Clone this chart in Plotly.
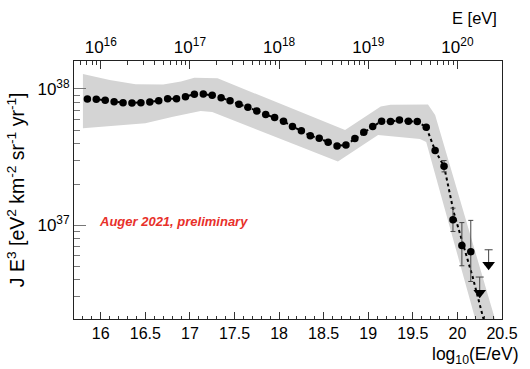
import numpy as np
import plotly.graph_objects as go

# Combined energy spectrum, J*E^3 in units of 1e37 eV^2 km^-2 sr^-1 yr^-1
lgE = np.round(np.arange(15.85, 20.16, 0.1), 2)
flux = [8.45, 8.41, 8.26, 8.07, 7.94, 7.91, 7.94, 8.04, 8.20, 8.49,
        8.49, 8.79, 9.14, 9.18, 8.99, 8.63, 8.20, 7.73, 7.35, 6.90,
        6.49, 6.17, 5.81, 5.30, 4.95, 4.55, 4.36, 4.07, 3.83, 3.89,
        4.33, 4.82, 5.30, 5.81, 5.77, 5.93, 5.81, 5.77, 5.25, 3.54,
        2.72, 1.10, 0.714, 0.643]

# statistical uncertainties (visible only in the last bins)
err_lgE = [19.85, 19.95, 20.05, 20.15]
err_up = [0.27, 0.24, 0.336, 0.447]
err_dn = [0.25, 0.196, 0.207, 0.254]

# upper limits
ul_lgE = [20.25, 20.35]
ul_flux = [0.322, 0.516]
ul_top = [0.419, 0.664]

# tail of the fitted function beyond the suppression
fit_tail_lgE = [19.96, 20.06, 20.17, 20.28, 20.34]
fit_tail_flux = [1.24, 0.746, 0.422, 0.222, 0.16]

# systematic uncertainty band
band_hi_lgE = [15.80, 16.10, 16.39, 16.70, 16.90, 17.05, 17.31, 18.74, 19.14, 19.25, 19.67, 19.75, 20.45]
band_hi = [12.88, 11.64, 10.84, 10.79, 11.35, 12.11, 11.97, 5.01, 7.43, 7.67, 7.71, 6.46, 0.178]
band_lo_lgE = [15.80, 16.50, 16.81, 17.12, 17.25, 18.19, 18.66, 19.11, 19.58, 19.65, 20.30]
band_lo = [5.16, 5.61, 6.27, 6.90, 6.79, 3.89, 2.94, 4.60, 4.31, 4.09, 0.120]

x_ticks = [16, 16.5, 17, 17.5, 18, 18.5, 19, 19.5, 20, 20.5]
x_ticktext = ["16", "16.5", "17", "17.5", "18", "18.5", "19", "19.5", "20", "20.5"]
top_exps = [16, 17, 18, 19, 20]

S = 1e37
flux_abs = np.array(flux) * S

up_full = np.zeros(len(lgE))
dn_full = np.zeros(len(lgE))
for xe, u, d in zip(err_lgE, err_up, err_dn):
    i = int(np.argmin(np.abs(lgE - xe)))
    up_full[i] = u * S
    dn_full[i] = d * S

FONT = "Liberation Sans, Arial, sans-serif"

fig = go.Figure()

# systematic band
fig.add_trace(go.Scatter(
    x=list(band_hi_lgE) + band_lo_lgE[::-1],
    y=list(np.array(band_hi) * S) + list(np.array(band_lo[::-1]) * S),
    fill="toself", fillcolor="#d4d4d4", line=dict(width=0, color="#d4d4d4"),
    mode="lines", hoverinfo="skip", showlegend=False))

# fit (dotted)
fig.add_trace(go.Scatter(
    x=list(lgE[:41]) + fit_tail_lgE,
    y=list(flux_abs[:41]) + list(np.array(fit_tail_flux) * S),
    mode="lines", line=dict(color="black", width=2, dash="3px,3px"),
    showlegend=False))

# data points
fig.add_trace(go.Scatter(
    x=lgE, y=flux_abs, mode="markers",
    marker=dict(symbol="circle", size=7.5, color="black"),
    error_y=dict(type="data", symmetric=False, array=up_full, arrayminus=dn_full,
                 color="#444", thickness=1, width=2.5),
    showlegend=False))

# upper limits
ul_abs = np.array(ul_flux) * S
fig.add_trace(go.Scatter(
    x=ul_lgE, y=ul_abs, mode="markers",
    marker=dict(symbol="triangle-down", size=11, color="black"),
    error_y=dict(type="data", symmetric=False,
                 array=np.array(ul_top) * S - ul_abs, arrayminus=[0, 0],
                 color="#444", thickness=1, width=4),
    showlegend=False))

# invisible trace carrying the top energy axis
fig.add_trace(go.Scatter(x=10 ** lgE, y=flux_abs, xaxis="x2", mode="markers",
                         marker=dict(opacity=0), hoverinfo="skip", showlegend=False))

x_minor = [v for v in np.round(np.arange(15.7, 20.51, 0.1), 2) if v not in x_ticks]
y_minor = [m * 10.0 ** e for e in (36, 37) for m in range(2, 10) if 36.315 <= np.log10(m * 10.0 ** e) <= 38.205]
top_minor = [m * 10.0 ** e for e in (15, 16, 17, 18, 19) for m in range(2, 10) if 15.7 <= np.log10(m * 10.0 ** e) <= 20.0]

fig.update_layout(
    width=530, height=369,
    margin=dict(l=74, r=20, t=61, b=50),
    paper_bgcolor="white", plot_bgcolor="white",
    font=dict(family=FONT, size=16, color="black"),
    xaxis=dict(
        range=[15.7, 20.5], tickmode="array", tickvals=x_ticks, ticktext=x_ticktext,
        ticks="inside", ticklen=7, tickcolor="#333", tickwidth=1,
        minor=dict(tickmode="array", tickvals=x_minor, ticks="inside", ticklen=3.5, tickcolor="#333"),
        showline=True, linecolor="#222", linewidth=1, mirror=False,
        showgrid=False, zeroline=False, tickfont=dict(size=16)),
    xaxis2=dict(
        type="log", range=[15.7, 20.5], overlaying="x", side="top",
        tickmode="array", tickvals=[10.0 ** e for e in top_exps],
        ticktext=[f"10<sup>{e}</sup>" for e in top_exps],
        ticks="inside", ticklen=8, tickcolor="#333",
        minor=dict(tickmode="array", tickvals=top_minor, ticks="inside", ticklen=4, tickcolor="#333"),
        showline=True, linecolor="#222", linewidth=1,
        showgrid=False, zeroline=False, tickfont=dict(size=17)),
    yaxis=dict(
        type="log", range=[36.315, 38.205], tickmode="array",
        tickvals=[1e37, 1e38], ticktext=["10<sup>37</sup>", "10<sup>38</sup>"],
        ticks="inside", ticklen=12, tickcolor="#777", tickwidth=1,
        minor=dict(tickmode="array", tickvals=y_minor, ticks="inside", ticklen=6, tickcolor="#777"),
        showline=True, linecolor="#222", linewidth=1, mirror=True,
        showgrid=False, zeroline=False, tickfont=dict(size=17)),
    annotations=[
        dict(text="E [eV]", xref="paper", yref="paper", x=0.993, y=1.167,
             xanchor="right", yanchor="middle", showarrow=False, font=dict(size=16.5)),
        dict(text="log<sub>10</sub>(E/eV)", xref="paper", yref="paper", x=1.045, y=-0.143,
             xanchor="right", yanchor="middle", showarrow=False, font=dict(size=17.5)),
        dict(text="J E<sup>3</sup> [eV<sup>2</sup> km<sup>-2</sup> sr<sup>-1</sup> yr<sup>-1</sup>]",
             xref="paper", yref="paper", x=-0.135, y=0.5, textangle=-90,
             xanchor="center", yanchor="middle", showarrow=False, font=dict(size=19.5)),
        dict(text="Auger 2021, preliminary", xref="x", yref="y", x=15.96, y=37.027,
             xanchor="left", yanchor="middle", showarrow=False,
             font=dict(size=13, color="#e8302a", weight="bold", style="italic")),
    ],
)

fig.write_html("out.html")
